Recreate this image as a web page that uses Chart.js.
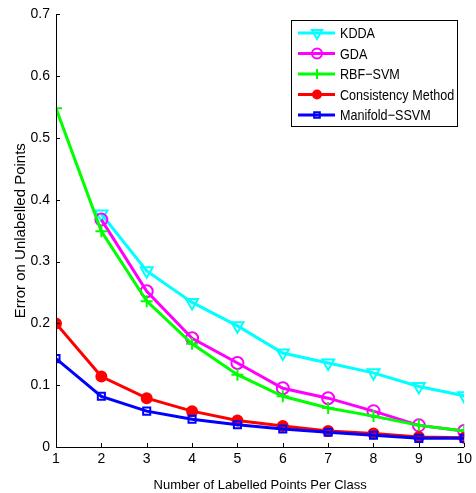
<!DOCTYPE html>
<html>
<head>
<meta charset="utf-8">
<script src="https://cdn.jsdelivr.net/npm/chart.js@4.4.1/dist/chart.umd.min.js"></script>
<style>
  html, body { margin: 0; padding: 0; background: #fff; }
  #wrap { width: 476px; height: 493px; }
</style>
</head>
<body>
<div id="wrap"><canvas id="grafico" width="476" height="493"></canvas></div>
<script>
// --- Datos ---
const puntos = [1, 2, 3, 4, 5, 6, 7, 8, 9, 10];
const kdda = [null, 0.377, 0.285, 0.234, 0.196, 0.152, 0.136, 0.120, 0.098, 0.083];
const gda = [null, 0.368, 0.252, 0.176, 0.136, 0.095, 0.079, 0.058, 0.035, 0.026];
const rbfSvm = [0.548, 0.349, 0.236, 0.167, 0.117, 0.082, 0.063, 0.050, 0.035, 0.026];
const consistencia = [0.200, 0.114, 0.079, 0.058, 0.043, 0.034, 0.026, 0.022, 0.016, 0.015];
const manifold = [0.143, 0.082, 0.058, 0.045, 0.036, 0.029, 0.024, 0.019, 0.014, 0.014];
const yTicks = [0, 0.1, 0.2, 0.3, 0.4, 0.5, 0.6, 0.7];

const FONT = "'Liberation Sans', Arial, sans-serif";

function serie(label, valores, color, estilo, extra) {
  return Object.assign({
    label: label,
    data: puntos.map((x, i) => ({ x: x, y: valores[i] })),
    borderColor: color,
    backgroundColor: color,
    borderWidth: 3,
    pointStyle: estilo,
    pointRadius: 6,
    pointBorderWidth: 2,
    pointBorderColor: color,
    pointBackgroundColor: "rgba(0,0,0,0)",
    tension: 0,
    spanGaps: false
  }, extra || {});
}

const datasets = [
  serie("Manifold\u2212SSVM", manifold, "#0000ff", "rect", { pointRadius: 5 }),
  serie("Consistency Method", consistencia, "#ff0000", "circle", { pointBackgroundColor: "#ff0000", pointRadius: 5 }),
  serie("RBF\u2212SVM", rbfSvm, "#00ff00", "cross", { pointRadius: 6 }),
  serie("GDA", gda, "#ff00ff", "circle", { pointRadius: 6 }),
  serie("KDDA", kdda, "#00ffff", "triangle", { pointRotation: 180, pointRadius: 7 })
];
const ordenLeyenda = [4, 3, 2, 1, 0];

// --- Ejes, ticks hacia dentro y leyenda ---
const extras = {
  id: "extras",
  afterDraw(chart) {
    const ctx = chart.ctx;
    const xs = chart.scales.x, ys = chart.scales.y;
    const a = chart.chartArea;
    ctx.save();
    ctx.strokeStyle = "#000";
    ctx.lineWidth = 1;
    ctx.beginPath();
    ctx.moveTo(a.left + 0.5, a.top);
    ctx.lineTo(a.left + 0.5, a.bottom + 0.5);
    ctx.lineTo(a.right, a.bottom + 0.5);
    puntos.forEach(v => {
      const px = Math.round(xs.getPixelForValue(v)) + 0.5;
      ctx.moveTo(px, a.bottom);
      ctx.lineTo(px, a.bottom - 4);
    });
    yTicks.forEach(v => {
      const py = Math.round(ys.getPixelForValue(v)) + 0.5;
      ctx.moveTo(a.left, py);
      ctx.lineTo(a.left + 4, py);
    });
    ctx.stroke();

    // leyenda
    const lx = 291, ly = 20, lw = 166, lh = 106;
    ctx.fillStyle = "#fff";
    ctx.fillRect(lx, ly, lw, lh);
    ctx.strokeRect(lx + 0.5, ly + 0.5, lw, lh);
    ctx.textBaseline = "middle";
    ordenLeyenda.forEach((idx, i) => {
      const ds = chart.data.datasets[idx];
      const y = ly + 13 + i * 20.5;
      ctx.strokeStyle = ds.borderColor;
      ctx.lineWidth = 3;
      ctx.beginPath();
      ctx.moveTo(lx + 7, y);
      ctx.lineTo(lx + 44, y);
      ctx.stroke();
      ctx.fillStyle = ds.pointBackgroundColor;
      ctx.strokeStyle = ds.borderColor;
      ctx.lineWidth = 2;
      Chart.helpers.drawPoint(ctx, {
        pointStyle: ds.pointStyle,
        rotation: ds.pointRotation || 0,
        radius: ds.pointRadius - 1,
        borderWidth: 2
      }, lx + 26, y);
      // texto un poco estrecho, como en el original
      ctx.save();
      ctx.translate(lx + 49, y + 1);
      ctx.scale(0.84, 1);
      ctx.font = "15px " + FONT;
      ctx.fillStyle = "#000";
      ctx.fillText(ds.label, 0, 0);
      ctx.restore();
    });
    ctx.restore();
  }
};

const ctx = document.getElementById("grafico").getContext("2d");
new Chart(ctx, {
  type: "line",
  data: { datasets: datasets },
  options: {
    responsive: false,
    animation: false,
    layout: { padding: { top: 10, right: 11, left: 0, bottom: 0 } },
    plugins: { legend: { display: false }, tooltip: { enabled: false } },
    scales: {
      x: {
        type: "linear",
        min: 1, max: 10,
        afterFit(s) { s.height = 46; },
        afterBuildTicks(s) { s.ticks = puntos.map(v => ({ value: v })); },
        grid: { display: false, drawTicks: false },
        border: { display: false },
        ticks: { color: "#000", font: { family: FONT, size: 14 }, padding: 4, maxRotation: 0 },
        title: { display: true, text: "Number of Labelled Points Per Class", color: "#000",
                 font: { family: FONT, size: 13 }, padding: { top: 2, bottom: 0 } }
      },
      y: {
        min: 0, max: 0.7,
        afterFit(s) { s.width = 56; },
        afterBuildTicks(s) { s.ticks = yTicks.map(v => ({ value: v })); },
        grid: { display: false, drawTicks: false },
        border: { display: false },
        ticks: { color: "#000", font: { family: FONT, size: 14 }, padding: 6,
                 callback: v => String(Math.round(v * 10) / 10) },
        title: { display: true, text: "Error on Unlabelled Points", color: "#000",
                 font: { family: FONT, size: 15 }, padding: { top: 12, bottom: 0 } }
      }
    }
  },
  plugins: [extras]
});
</script>
</body>
</html>
